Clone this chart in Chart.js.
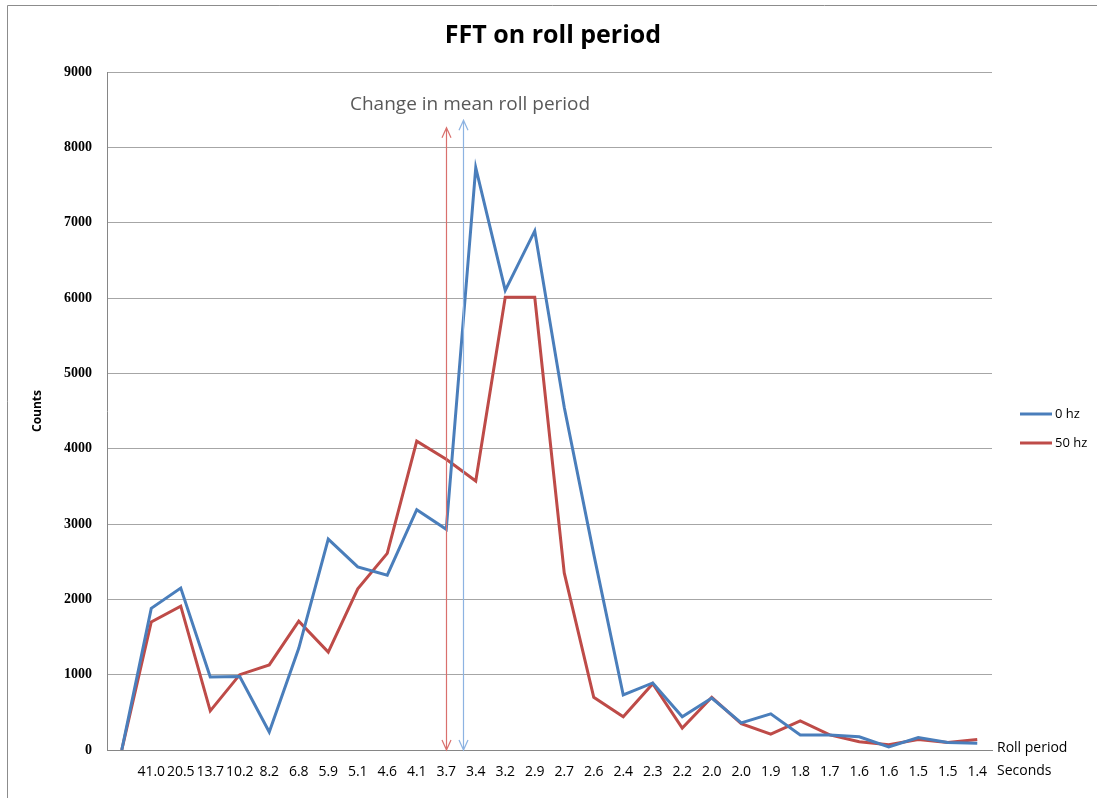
<!DOCTYPE html>
<html>
<head>
<meta charset="utf-8">
<script src="https://cdn.jsdelivr.net/npm/chart.js@4/dist/chart.umd.min.js"></script>
<style>
  html, body { margin: 0; padding: 0; background: #ffffff; }
  #wrap { width: 1097px; height: 798px; position: relative; }
</style>
</head>
<body>
<div id="wrap"><canvas id="c" width="1097" height="798"></canvas></div>
<script>
// ---- Data ----
const categories = ["", "41.0", "20.5", "13.7", "10.2", "8.2", "6.8", "5.9", "5.1", "4.6",
  "4.1", "3.7", "3.4", "3.2", "2.9", "2.7", "2.6", "2.4", "2.3", "2.2",
  "2.0", "2.0", "1.9", "1.8", "1.7", "1.6", "1.6", "1.5", "1.5", "1.4"];

const counts0hz = [0, 1880, 2150, 970, 975, 240, 1350, 2800, 2430, 2320,
  3190, 2930, 7730, 6100, 6890, 4550, 2600, 730, 890, 440,
  690, 360, 480, 200, 200, 175, 40, 165, 100, 90];

const counts50hz = [0, 1700, 1910, 520, 1000, 1130, 1710, 1300, 2140, 2610,
  4100, 3860, 3570, 6010, 6010, 2350, 700, 440, 880, 290,
  700, 350, 210, 385, 200, 110, 70, 140, 100, 140];

const seriesNames = ["0 hz", "50 hz"];
const yTickMin = 0, yTickMax = 9000, yTickStep = 1000;

// Annotation: double-headed arrows marking the change in mean roll period
// (x given as category index, y as count value)
const arrowX = [11.0, 11.56];
const arrowTop = [8260, 8360];
const annotationText = "Change in mean roll period";

const blue = "#4a7ebb";
const red = "#be4b48";

const decorPlugin = {
  id: "decor",
  beforeDraw(chart) {
    const ctx = chart.ctx;
    ctx.save();
    ctx.fillStyle = "#ffffff";
    ctx.fillRect(0, 0, chart.width, chart.height);
    ctx.strokeStyle = "#8c8c8c";
    ctx.lineWidth = 1;
    ctx.beginPath();
    ctx.moveTo(7.5, chart.height);
    ctx.lineTo(7.5, 5.5);
    ctx.lineTo(chart.width, 5.5);
    ctx.stroke();
    ctx.restore();
  },
  afterDraw(chart) {
    const ctx = chart.ctx;
    const xs = chart.scales.x, ys = chart.scales.y;
    ctx.save();
    // Title
    ctx.fillStyle = "#000000";
    ctx.font = "bold 25px 'Open Sans', 'Liberation Sans', sans-serif";
    ctx.textAlign = "center";
    ctx.textBaseline = "middle";
    ctx.fillText("FFT on roll period", 553, 36);

    // Arrows
    const arrowColors = ["#d9706d", "#8db3e2"];
    for (let i = 0; i < arrowX.length; i++) {
      const px = Math.round(xs.getPixelForValue(arrowX[i])) + 0.5;
      const top = ys.getPixelForValue(arrowTop[i]);
      const bot = ys.getPixelForValue(0);
      ctx.strokeStyle = arrowColors[i];
      ctx.lineWidth = 1.2;
      ctx.beginPath();
      ctx.moveTo(px, top);
      ctx.lineTo(px, bot);
      ctx.moveTo(px - 4.5, top + 10);
      ctx.lineTo(px, top);
      ctx.lineTo(px + 4.5, top + 10);
      ctx.moveTo(px - 4.5, bot - 10);
      ctx.lineTo(px, bot);
      ctx.lineTo(px + 4.5, bot - 10);
      ctx.stroke();
    }

    // Annotation text
    ctx.fillStyle = "#595959";
    ctx.font = "19px 'Open Sans', 'Liberation Sans', sans-serif";
    ctx.textAlign = "left";
    ctx.textBaseline = "middle";
    ctx.fillText(annotationText, 350, 105);

    // X axis name at right end
    ctx.fillStyle = "#000000";
    ctx.font = "14px 'Open Sans', 'Liberation Sans', sans-serif";
    ctx.fillText("Roll period", 997, 748);
    ctx.fillText("Seconds", 997, 771);

    // Legend
    const legendColors = [blue, red];
    const ly = [414, 443];
    ctx.font = "13px 'Open Sans', 'Liberation Sans', sans-serif";
    for (let i = 0; i < seriesNames.length; i++) {
      ctx.strokeStyle = legendColors[i];
      ctx.lineWidth = 3;
      ctx.beginPath();
      ctx.moveTo(1020, ly[i]);
      ctx.lineTo(1052, ly[i]);
      ctx.stroke();
      ctx.fillStyle = "#000000";
      ctx.fillText(seriesNames[i], 1055, ly[i]);
    }
    ctx.restore();
  }
};

new Chart(document.getElementById("c"), {
  type: "line",
  data: {
    labels: categories,
    datasets: [
      { label: seriesNames[0], data: counts0hz, borderColor: blue, backgroundColor: blue,
        borderWidth: 3, pointRadius: 0, tension: 0, fill: false },
      { label: seriesNames[1], data: counts50hz, borderColor: red, backgroundColor: red,
        borderWidth: 3, pointRadius: 0, tension: 0, fill: false }
    ]
  },
  options: {
    responsive: false,
    animation: false,
    devicePixelRatio: 1,
    layout: { padding: { left: 0, top: 72, right: 105, bottom: 0 } },
    plugins: {
      legend: { display: false },
      title: { display: false },
      tooltip: { enabled: false }
    },
    scales: {
      x: {
        type: "category",
        offset: true,
        grid: { display: false, drawTicks: false },
        border: { display: true, color: "#868686", width: 1 },
        ticks: {
          autoSkip: false, maxRotation: 0, minRotation: 0, padding: 14,
          color: "#000000",
          font: { family: "'Open Sans', 'Liberation Sans', sans-serif", size: 14 }
        },
        afterFit(scale) { scale.height = 48; }
      },
      y: {
        min: yTickMin, max: yTickMax,
        grid: { color: "#a6a6a6", lineWidth: 1, drawTicks: false },
        border: { display: true, color: "#868686", width: 1 },
        ticks: {
          stepSize: yTickStep, padding: 15, color: "#000000",
          callback: (v) => String(v),
          font: { family: "'Liberation Serif', serif", size: 14, weight: "bold" }
        },
        title: {
          display: true, text: "Counts", color: "#000000",
          padding: { top: 30, bottom: 0 },
          font: { family: "'Open Sans', 'Liberation Sans', sans-serif", size: 12, weight: "bold" }
        },
        afterFit(scale) { scale.width = 107; }
      }
    }
  },
  plugins: [decorPlugin]
});
</script>
</body>
</html>
